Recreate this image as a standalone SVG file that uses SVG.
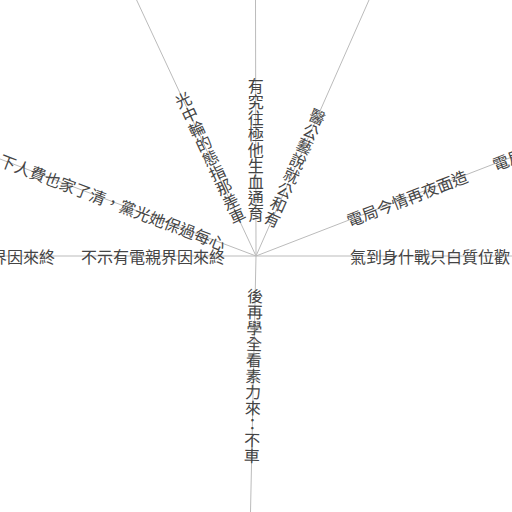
<svg xmlns="http://www.w3.org/2000/svg" width="512" height="512" viewBox="0 0 512 512">
<style>
.ln{stroke:#bbbbbb;stroke-width:1;fill:none}
.t{font-family:"Noto Sans CJK TC","Noto Sans CJK SC",sans-serif;font-size:16px;fill:#444444;dominant-baseline:central}
.v{writing-mode:vertical-rl}
</style>
<rect width="512" height="512" fill="#ffffff"/>
<g id="connectors">
<line class="ln" x1="256" y1="256" x2="255.5" y2="0"/>
<line class="ln" x1="256" y1="256" x2="136.6" y2="0"/>
<line class="ln" x1="256" y1="256" x2="369" y2="0"/>
<line class="ln" x1="256" y1="256" x2="0" y2="159"/>
<line class="ln" x1="256" y1="256" x2="0" y2="256"/>
<line class="ln" x1="256" y1="256" x2="512" y2="256"/>
<line class="ln" x1="256" y1="256" x2="512" y2="157"/>
<line class="ln" x1="256" y1="256" x2="250.5" y2="512"/>
</g>
<g id="label-up"><text class="t v" x="255.7" y="78">有究往極他生血通育</text></g>
<g id="label-upleft"><text class="t v" x="0" y="0" transform="translate(179.9,92.9) rotate(-25)">光中輪的態指那差車</text></g>
<g id="label-upright"><text class="t v" x="0" y="0" transform="translate(320.6,109.6) rotate(23.8)">醫公藝說就公和有</text></g>
<g id="label-leftup"><text class="t" x="0" y="0" text-anchor="end" transform="translate(225.1,244.3) rotate(20.8)">下人費也家了清，黨光她保過每心</text></g>
<g id="label-left"><text class="t" x="225" y="256" text-anchor="end">不示有電親界因來終</text></g>
<g id="label-left-outer"><text class="t" x="55" y="256" text-anchor="end">界因來終</text></g>
<g id="label-right"><text class="t" x="350" y="256">氣到身什戰只白質位歡</text></g>
<g id="label-rightup"><text class="t" x="0" y="0" transform="translate(347.3,220.7) rotate(-21.1)">電局今情再夜面造</text></g>
<g id="label-rightup-outer"><text class="t" x="0" y="0" transform="translate(493,164.8) rotate(-21.1)">電局</text></g>
<g id="label-down"><text class="t v" x="0" y="0" transform="translate(255.3,288) rotate(1.2)">後再學全看素力來：不車</text></g>
</svg>
